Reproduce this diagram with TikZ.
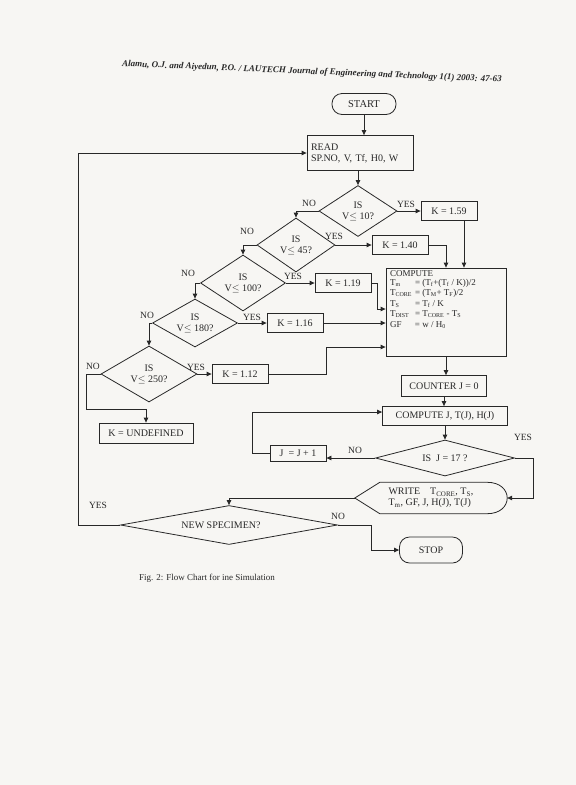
\documentclass[tikz,border=0pt]{standalone}
\usepackage{fontspec}
\setmainfont{Liberation Serif}
\usetikzlibrary{arrows.meta, positioning, shapes.geometric}
\definecolor{paper}{RGB}{247,246,243}
\definecolor{ink}{RGB}{40,40,40}

\begin{document}
\begin{tikzpicture}[x=1pt, y=-1pt,
  every node/.style={font=\fontsize{10}{11}\selectfont, text=ink},
  box/.style={draw=ink, line width=0.8pt, rectangle, inner sep=2pt},
  decision/.style={draw=ink, line width=0.8pt, diamond, aspect=1.5, inner sep=0pt, align=center},
  term/.style={draw=ink, line width=0.8pt, rounded corners=10pt, inner sep=2pt},
  lbl/.style={inner sep=0pt, font=\fontsize{9.5}{10}\selectfont},
  wire/.style={draw=ink, line width=0.8pt},
  arr/.style={wire, -{Triangle[length=5pt,width=4.5pt]}}]
  \fill[paper] (0,0) rectangle (576,785);
  \useasboundingbox (0,0) rectangle (576,785);

  % header of the page
  \node[font=\fontsize{9}{10}\selectfont\bfseries\itshape, rotate=-2.4] (header) at (312,72) {Alamu, O.J. and Aiyedun, P.O. / LAUTECH Journal of Engineering and Technology 1(1) 2003: 47-63};

  % start and input
  \node[term, minimum width=64pt, minimum height=21pt, font=\fontsize{10.5}{11}\selectfont] (start) at (364,104) {START};
  \node[box, minimum width=106pt, minimum height=35pt, align=left, text width=98pt] (read) at (360,153) {READ\\SP.NO, V, Tf, H0, W};

  % chain of tests on V
  \node[decision, minimum width=78pt, minimum height=51pt] (d1) at (358,211) {IS\\V$\le$ 10?};
  \node[decision, minimum width=78pt, minimum height=54pt] (d2) at (296,245) {IS\\V$\le$ 45?};
  \node[decision, minimum width=85pt, minimum height=56pt] (d3) at (243,283) {IS\\V$\le$ 100?};
  \node[decision, minimum width=85pt, minimum height=48pt] (d4) at (195,323) {IS\\V$\le$ 180?};
  \node[decision, minimum width=96pt, minimum height=56pt] (d5) at (149,374) {IS\\V$\le$ 250?};

  \node[box, minimum width=56pt, minimum height=19pt] (k159) at (449,211) {K = 1.59};
  \node[box, minimum width=56pt, minimum height=19pt] (k140) at (400,245) {K = 1.40};
  \node[box, minimum width=56pt, minimum height=19pt] (k119) at (343,283) {K = 1.19};
  \node[box, minimum width=56pt, minimum height=19pt] (k116) at (295,323) {K = 1.16};
  \node[box, minimum width=56pt, minimum height=19pt] (k112) at (240,374) {K = 1.12};
  \node[box, minimum width=94pt, minimum height=20pt] (kundef) at (146,433) {K = UNDEFINED};

  % computation
  \node[box, minimum width=120pt, minimum height=88pt] (compute) at (446,312) {\parbox[c][82pt][t]{112pt}{\fontsize{9}{10.5}\selectfont COMPUTE\\
    \begin{tabular}{@{}l@{\hspace{3pt}}l@{}}
      T\textsubscript{m} & = (T\textsubscript{f}+(T\textsubscript{f} / K))/2\\
      T\textsubscript{CORE} & = (T\textsubscript{M}+ T\textsubscript{F})/2\\
      T\textsubscript{S} & = T\textsubscript{f} / K\\
      T\textsubscript{DIST} & = T\textsubscript{CORE} - T\textsubscript{S}\\
      GF & = w / H\textsubscript{0}
    \end{tabular}}};
  \node[box, minimum width=85pt, minimum height=21pt] (counter) at (444,386) {COUNTER J = 0};
  \node[box, minimum width=125pt, minimum height=19pt] (computeJ) at (445,416) {COMPUTE J, T(J), H(J)};
  \node[box, minimum width=56pt, minimum height=16pt] (jinc) at (298,453) {J\enspace= J + 1};
  \node[decision, aspect=4, minimum width=139pt, minimum height=36pt] (testJ) at (445,458) {IS\enspace J = 17 ?};

  % output and end
  \node[minimum width=152pt, minimum height=31pt, inner sep=0pt, align=left] (write) at (431,498) {WRITE\quad T\textsubscript{CORE}, T\textsubscript{S},\\T\textsubscript{m}, GF, J, H(J), T(J)};
  \draw[wire] (write.west) -- ([xshift=25pt]write.north west) -- ([xshift=-20pt]write.north east)
    .. controls ([xshift=6.67pt]write.north east) and ([xshift=6.67pt]write.south east) .. ([xshift=-20pt]write.south east)
    -- ([xshift=25pt]write.south west) -- cycle;
  \node[decision, aspect=5.5, minimum width=217pt, minimum height=39pt] (nspec) at (229,525) {NEW SPECIMEN?\hspace*{16pt}};
  \node[term, minimum width=63pt, minimum height=26pt] (stop) at (431,550) {STOP};

  \node[font=\fontsize{9}{10}\selectfont] (caption) at (207,578) {Fig. 2: Flow Chart for ine Simulation};

  % helper points
  \coordinate (loopL) at (78,0);
  \coordinate (undefL) at (86,409);
  \coordinate (k159out) at ([xshift=15pt]k159.south);

  % connectors
  \draw[arr] (start.south) -- (start.south |- read.north);
  \draw[arr] (d1.north |- read.south) -- (d1.north);
  \draw[arr] (d1.east) -- (k159.west);
  \draw[arr] (d1.west) -| (d2.north);
  \draw[arr] (d2.east) -- (k140.west);
  \draw[arr] (d2.west) -| (d3.north);
  \draw[arr] (d3.east) -- (k119.west);
  \draw[arr] (d3.west) -| (d4.north);
  \draw[arr] (d4.east) -- (k116.west);
  \draw[arr] (d4.west) -| (d5.north);
  \draw[arr] (d5.east) -- (k112.west);
  \draw[arr] (d5.west) -| (undefL) -| (kundef.north);

  \draw[arr] (k159out) -- (k159out |- compute.north);
  \draw[arr] (k140.east) -| (compute.north);
  \draw[arr] (k119.east) -- ++(6,0) |- ([yshift=3pt]compute.west);
  \draw[arr] (k116.east) -- (k116.east -| compute.west);
  \draw[arr] (k112.east) -- ++(58,0) |- ([yshift=-35pt]compute.west);

  \draw[arr] (compute.south) -- (compute.south |- counter.north);
  \draw[arr] (counter.south) -- (counter.south |- computeJ.north);
  \draw[arr] (computeJ.south) -- (computeJ.south |- testJ.north);
  \draw[arr] (testJ.west) -- (testJ.west -| jinc.east);
  \draw[arr] (jinc.west) -- ++(-17,0) |- ([yshift=4pt]computeJ.west);
  \draw[arr] (testJ.east) -- ++(18,0) |- (write.east);
  \draw[arr] (write.west) -| (nspec.north);
  \draw[arr] (nspec.west) -- (nspec.west -| loopL) |- (read.west);
  \draw[arr] (nspec.east) -- ++(33,0) |- (stop.west);

  % branch labels
  \node[lbl] (no1) at (309,203) {NO};
  \node[lbl] (yes1) at (406,204) {YES};
  \node[lbl] (no2) at (247,231) {NO};
  \node[lbl] (yes2) at (334,236) {YES};
  \node[lbl] (no3) at (188,273) {NO};
  \node[lbl] (yes3) at (293,276) {YES};
  \node[lbl] (no4) at (147,315) {NO};
  \node[lbl] (yes4) at (252,317) {YES};
  \node[lbl] (no5) at (93,366) {NO};
  \node[lbl] (yes5) at (196,367) {YES};
  \node[lbl] (no6) at (355,450) {NO};
  \node[lbl] (yes6) at (523,437) {YES};
  \node[lbl] (yes7) at (98,505) {YES};
  \node[lbl] (no7) at (338,516) {NO};
\end{tikzpicture}
\end{document}
